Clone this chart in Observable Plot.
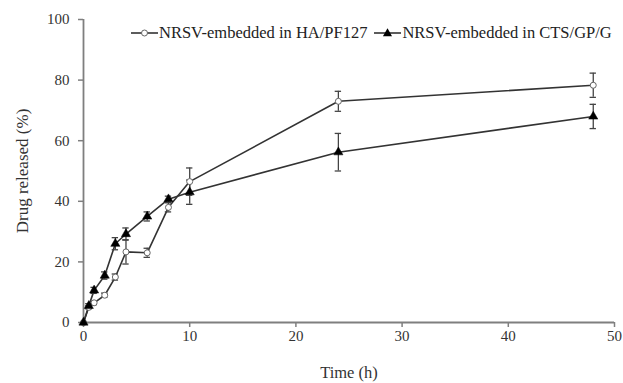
<!DOCTYPE html>
<html>
<head>
<meta charset="utf-8">
<script src="https://cdn.jsdelivr.net/npm/d3@7"></script>
<script src="https://cdn.jsdelivr.net/npm/@observablehq/plot@0.6"></script>
<style>
  html, body { margin: 0; padding: 0; background: #fff; }
  #wrap { position: relative; width: 623px; height: 383px; }
  #legend { position: absolute; left: 131px; top: 23px; display: flex; align-items: center;
    font-family: "Liberation Serif", "Times New Roman", serif; font-size: 16.5px; color: #222; white-space: nowrap; }
  #legend .item { display: flex; align-items: center; margin-right: 7px; }
  #legend svg { margin-right: 1px; }
</style>
</head>
<body>
<div id="wrap"><div id="legend"></div></div>
<script>
const times = [0, 0.5, 1, 2, 3, 4, 6, 8, 10, 24, 48];
const seriesNames = ["NRSV-embedded in HA/PF127", "NRSV-embedded in CTS/GP/G"];
const haValues  = [0, 5, 6.5, 9, 15, 23.3, 23, 38, 46.5, 73, 78.3];
const haErrors  = [0, 0.5, 0.6, 0.7, 1, 4, 1.5, 1.5, 4.5, 3.3, 4];
const ctsValues = [0, 5.5, 10.6, 15.5, 26, 29.2, 35, 40.7, 43, 56.2, 68];
const ctsErrors = [0, 0.7, 1, 1.2, 2, 2, 1.5, 1, 4, 6.2, 4];
const xTicks = [0, 10, 20, 30, 40, 50];
const yTicks = [0, 20, 40, 60, 80, 100];

const rows = [];
times.forEach((t, i) => {
  rows.push({series: seriesNames[0], t, v: haValues[i], e: haErrors[i]});
  rows.push({series: seriesNames[1], t, v: ctsValues[i], e: ctsErrors[i]});
});
const ha = rows.filter(d => d.series === seriesNames[0]);
const cts = rows.filter(d => d.series === seriesNames[1]);
const errRows = rows.filter(d => d.e > 0);
const capHalf = 0.3;

const axisGray = "#7f7f7f";
const lineColor = "#333";
const textColor = "#333";
const serif = "'Liberation Serif', 'Times New Roman', serif";

const chart = Plot.plot({
  width: 623,
  height: 383,
  marginLeft: 83,
  marginRight: 9,
  marginTop: 19,
  marginBottom: 61,
  style: {fontFamily: serif, background: "#fff"},
  x: {domain: [0, 50]},
  y: {domain: [0, 100]},
  marks: [
    Plot.axisX({ticks: xTicks, tickSize: 5, tickPadding: 3, stroke: axisGray, strokeWidth: 1.5, fill: textColor,
      fontSize: 15, label: null}),
    Plot.axisX({ticks: [], label: "Time (h)", labelAnchor: "center", labelArrow: "none", labelOffset: 55,
      fontSize: 16.5, fill: textColor}),
    Plot.axisY({ticks: yTicks, tickSize: 5, tickPadding: 9, stroke: axisGray, strokeWidth: 1.5, fill: textColor,
      fontSize: 15, label: null}),
    Plot.axisY({ticks: [], label: "Drug released (%)", labelAnchor: "center", labelArrow: "none", labelOffset: 68,
      fontSize: 17, fill: textColor}),
    Plot.ruleX([0], {stroke: axisGray, strokeWidth: 1.8}),
    Plot.ruleY([0], {stroke: axisGray, strokeWidth: 1.8}),
    Plot.line(ha, {x: "t", y: "v", stroke: lineColor, strokeWidth: 1.6}),
    Plot.line(cts, {x: "t", y: "v", stroke: lineColor, strokeWidth: 1.6}),
    Plot.ruleX(errRows, {x: "t", y1: d => d.v - d.e, y2: d => d.v + d.e, stroke: "#444", strokeWidth: 1.3}),
    Plot.ruleY(errRows, {y: d => d.v + d.e, x1: d => d.t - capHalf, x2: d => d.t + capHalf, stroke: "#444", strokeWidth: 1.3}),
    Plot.ruleY(errRows, {y: d => d.v - d.e, x1: d => d.t - capHalf, x2: d => d.t + capHalf, stroke: "#444", strokeWidth: 1.3}),
    Plot.dot(ha, {x: "t", y: "v", r: 3, fill: "#fff", stroke: "#666", strokeWidth: 1}),
    Plot.dot(cts, {x: "t", y: "v", symbol: "triangle", r: 3.4, fill: "#000", stroke: "#000", strokeWidth: 0.5})
  ]
});
document.getElementById("wrap").prepend(chart);

const legend = document.getElementById("legend");
const ns = "http://www.w3.org/2000/svg";
seriesNames.forEach((name, i) => {
  const item = document.createElement("div");
  item.className = "item";
  const svg = document.createElementNS(ns, "svg");
  svg.setAttribute("width", 27); svg.setAttribute("height", 12);
  const ln = document.createElementNS(ns, "line");
  ln.setAttribute("x1", 0); ln.setAttribute("x2", 27); ln.setAttribute("y1", 6); ln.setAttribute("y2", 6);
  ln.setAttribute("stroke", lineColor); ln.setAttribute("stroke-width", 1.6);
  svg.appendChild(ln);
  if (i === 0) {
    const c = document.createElementNS(ns, "circle");
    c.setAttribute("cx", 13.5); c.setAttribute("cy", 6); c.setAttribute("r", 3);
    c.setAttribute("fill", "#fff"); c.setAttribute("stroke", "#666");
    svg.appendChild(c);
  } else {
    const p = document.createElementNS(ns, "path");
    p.setAttribute("d", d3.symbol(d3.symbolTriangle, 36)());
    p.setAttribute("transform", "translate(13.5,6.5)");
    p.setAttribute("fill", "#000");
    svg.appendChild(p);
  }
  item.appendChild(svg);
  const span = document.createElement("span");
  span.textContent = name;
  item.appendChild(span);
  legend.appendChild(item);
});
</script>
</body>
</html>
